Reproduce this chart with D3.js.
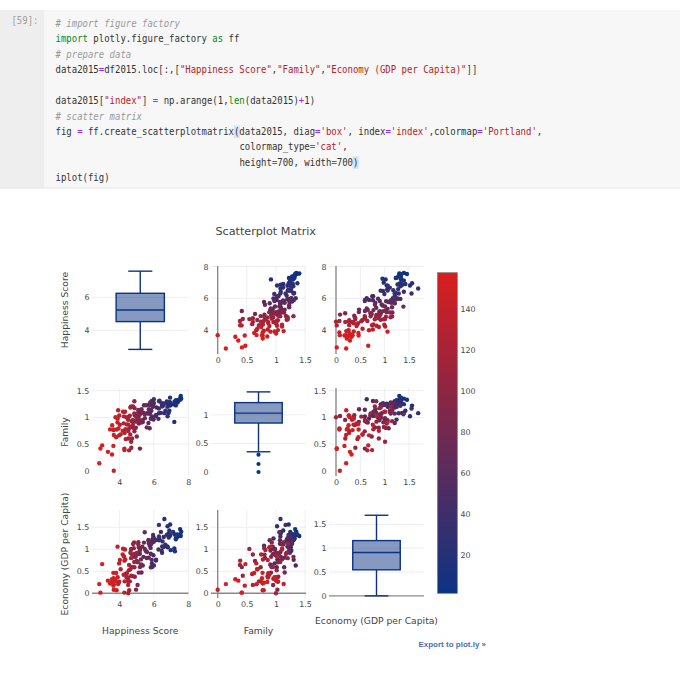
<!DOCTYPE html>
<html>
<head>
<meta charset="utf-8">
<script src="https://cdn.jsdelivr.net/npm/d3@7"></script>
<style>
  body { margin: 0; background: #fff; }
  svg { display: block; }
  text { white-space: pre; }
</style>
</head>
<body>
<svg id="page" width="680" height="680"></svg>
<script>
// World Happiness Report 2015, in rank order (index 1..158)
const happiness = [
  7.587,7.561,7.527,7.522,7.427,7.406,7.378,7.364,7.286,7.284,
  7.278,7.226,7.200,7.187,7.119,6.983,6.946,6.940,6.937,6.901,
  6.867,6.853,6.810,6.798,6.786,6.750,6.670,6.611,6.575,6.574,
  6.505,6.485,6.477,6.455,6.411,6.329,6.302,6.298,6.295,6.269,
  6.168,6.130,6.123,6.003,5.995,5.987,5.984,5.975,5.960,5.948,
  5.890,5.889,5.878,5.855,5.848,5.833,5.828,5.824,5.813,5.791,
  5.770,5.759,5.754,5.716,5.709,5.695,5.689,5.605,5.589,5.548,
  5.477,5.474,5.429,5.399,5.360,5.332,5.286,5.268,5.253,5.212,
  5.194,5.192,5.192,5.140,5.129,5.124,5.123,5.102,5.098,5.073,
  5.057,5.013,5.007,4.971,4.959,4.949,4.898,4.885,4.876,4.874,
  4.867,4.857,4.839,4.800,4.788,4.786,4.739,4.715,4.694,4.686,
  4.681,4.677,4.642,4.633,4.610,4.571,4.565,4.550,4.518,4.517,
  4.514,4.512,4.507,4.436,4.419,4.369,4.350,4.332,4.307,4.297,
  4.292,4.271,4.252,4.218,4.194,4.077,4.033,3.995,3.989,3.956,
  3.931,3.904,3.896,3.845,3.819,3.781,3.681,3.678,3.667,3.656,
  3.655,3.587,3.575,3.465,3.340,3.006,2.905,2.839
];
const family = [
  1.350,1.402,1.361,1.331,1.323,1.318,1.280,1.289,1.320,1.309,
  1.224,1.238,1.297,0.915,1.247,1.233,1.220,1.369,1.286,1.126,
  1.285,1.082,1.256,1.020,1.199,1.299,1.124,1.079,1.260,1.248,
  1.206,1.209,1.240,1.265,1.084,1.314,1.302,1.076,1.166,0.972,
  1.184,1.025,1.044,1.340,1.270,1.257,0.958,0.999,1.216,1.198,
  0.978,1.015,1.305,1.122,1.274,1.257,1.142,0.975,1.233,1.279,
  1.070,0.796,1.119,1.236,1.151,1.070,0.893,1.078,0.812,1.227,
  0.985,1.058,1.228,1.087,0.912,0.946,1.151,0.904,1.104,0.938,
  0.414,1.054,0.906,0.947,0.916,0.886,1.010,1.139,1.096,1.035,
  0.952,0.641,1.002,1.026,0.804,0.919,1.041,1.172,0.738,1.301,
  1.073,0.929,0.800,1.202,0.953,0.856,0.604,0.926,0.431,0.544,
  1.203,0.819,1.185,0.680,1.033,0.790,0.382,1.014,0.743,1.001,
  0.864,0.604,0.956,0.869,0.999,0.592,0.777,1.105,0.709,0.386,
  0.411,1.019,0.888,1.106,0.747,0.681,0.860,1.035,0.663,0.793,
  1.133,0.976,0.905,0.773,0.627,1.003,0.668,0.000,0.761,0.465,
  0.771,0.852,0.303,0.774,0.354,0.475,0.416,0.140
];
const economy = [
  1.397,1.302,1.325,1.459,1.326,1.290,1.329,1.332,1.250,1.334,
  1.229,0.956,1.337,1.021,1.395,0.981,1.564,1.336,1.308,1.427,
  1.266,1.360,1.044,1.522,1.064,1.328,1.107,1.690,1.278,1.054,
  1.179,1.062,0.919,0.967,1.395,1.230,1.207,1.291,1.554,0.995,
  1.212,0.765,0.746,0.632,1.169,1.271,1.245,0.864,1.324,1.251,
  0.681,0.594,0.760,1.123,1.185,1.147,0.593,0.900,1.032,1.126,
  1.125,1.083,1.131,1.138,0.810,1.208,1.208,0.939,0.801,0.958,
  1.008,1.386,1.152,0.828,0.632,1.061,0.474,0.654,0.770,1.024,
  0.595,0.902,0.974,0.890,0.470,1.043,0.921,1.160,1.113,0.705,
  0.188,0.735,0.919,0.083,0.879,0.832,0.375,0.895,0.591,0.828,
  0.712,1.154,1.026,1.121,0.595,0.390,0.881,0.599,0.398,1.009,
  0.799,0.985,0.920,0.546,0.271,0.071,0.645,0.521,0.267,0.000,
  0.360,0.191,0.330,0.454,0.365,0.440,0.768,0.994,0.271,0.742,
  0.016,0.835,0.423,1.012,0.882,0.546,0.758,0.261,0.679,0.239,
  0.211,0.365,1.060,0.069,0.460,0.285,0.208,0.079,0.342,0.174,
  0.465,0.258,0.320,0.222,0.287,0.663,0.015,0.209
];
const varNames = ["Happiness Score", "Family", "Economy (GDP per Capita)"];
const axisTicks = [[4, 6, 8], [0, 0.5, 1, 1.5], [0, 0.5, 1, 1.5]];
const colorbarTicks = [20, 40, 60, 80, 100, 120, 140];
const indexRange = [1, 158];
const portlandEnds = ["rgb(12,51,131)", "rgb(217,30,30)"];

const codeLines = [
  "# import figure factory",
  "import plotly.figure_factory as ff",
  "# prepare data",
  "data2015=df2015.loc[:,[\"Happiness Score\",\"Family\",\"Economy (GDP per Capita)\"]]",
  "",
  "data2015[\"index\"] = np.arange(1,len(data2015)+1)",
  "# scatter matrix",
  "fig = ff.create_scatterplotmatrix(data2015, diag='box', index='index',colormap='Portland',",
  "                                  colormap_type='cat',",
  "                                  height=700, width=700)",
  "iplot(fig)"
];

const svg = d3.select("#page");

// ---------- notebook cell ----------
// DejaVu Sans Mono is 0.602em wide; squeeze it horizontally to the 5.41px grid of the screenshot
const monoSize = 10, cw = 5.41, squeeze = cw / (0.602 * monoSize);
const codeX = 55.5, lineH = 15.45, firstBase = 26.8;
svg.append("rect").attr("x", 0).attr("y", 10).attr("width", 680).attr("height", 178).attr("fill", "#f7f7f7");
svg.append("rect").attr("x", 0).attr("y", 10).attr("width", 44).attr("height", 178).attr("fill", "#eeeeee");
svg.append("line").attr("x1", 0).attr("x2", 680).attr("y1", 188).attr("y2", 188).attr("stroke", "#e6e6e6");

svg.append("text").attr("transform", `translate(38.5,23.5) scale(${squeeze},1)`).attr("text-anchor", "end")
  .attr("font-family", "DejaVu Sans Mono").attr("font-size", monoSize).attr("fill", "#9e9e9e").text("[59]:");

// matching bracket highlight
[[7, 33], [9, 55]].forEach(([ln, col]) => {
  svg.append("rect").attr("x", codeX + col * cw - 0.3).attr("y", firstBase + ln * lineH - 9.5)
    .attr("width", cw + 0.6).attr("height", 12.5).attr("fill", "#d3e4f8");
});

const codeColors = { comment: "#9a9a9a", keyword: "#0b8a0b", string: "#ba2121", op: "#aa22ff", plain: "#333333" };

function tokenize(line) {
  if (line.trim().startsWith("#")) return [{ s: line.trim(), c: "comment" }];
  const out = [];
  const re = /("[^"]*"|'[^']*')|\b(import|as|len)\b|([=+])/g;
  let last = 0, m;
  while ((m = re.exec(line))) {
    if (m.index > last) out.push({ s: line.slice(last, m.index), c: "plain" });
    out.push({ s: m[0], c: m[1] ? "string" : m[2] ? "keyword" : "op" });
    last = m.index + m[0].length;
  }
  if (last < line.length) out.push({ s: line.slice(last), c: "plain" });
  return out;
}

// one text per line, coloured tspans
codeLines.forEach((line, ln) => {
  const lead = line.length - line.trimStart().length;
  const body = line.trim();
  if (!body) return;
  const t = svg.append("text")
    .attr("transform", `translate(${codeX + lead * cw},${firstBase + ln * lineH}) scale(${squeeze},1)`)
    .attr("xml:space", "preserve")
    .attr("font-family", "DejaVu Sans Mono")
    .attr("font-size", monoSize);
  tokenize(body).forEach(tok => {
    t.append("tspan")
      .attr("fill", codeColors[tok.c])
      .attr("font-style", tok.c === "comment" ? "italic" : null)
      .text(tok.s);
  });
});

// ---------- scatterplot matrix ----------
const series = [happiness, family, economy];
const cols = [[92, 188.5], [211, 306], [329, 424]];
const rows = [[266, 354], [388, 476], [510, 598]];
const xDom = [[2.417, 8.01], [-0.115, 1.517], [-0.144, 1.81]];
const yDom = [[2.49, 8.03], [-0.099, 1.55], [-0.107, 1.893]];
const boxDom = [[2.56, 7.9], [-0.07, 1.47], [-0.045, 1.80]];
const rowZeroLine = [false, false, true];
const font = "DejaVu Sans";
const tickSize = 7.9, titleSize = 9.2;
const boxColor = portlandEnds[0];

const color = d3.scaleLinear().domain(indexRange).range(portlandEnds).interpolate(d3.interpolateRgb);
const fmt = d3.format("~g");
const inside = (dom, v) => v >= dom[0] && v <= dom[1];

const chart = svg.append("g");

svg.append("text").attr("x", 265.7).attr("y", 234.5).attr("text-anchor", "middle")
  .attr("font-family", font).attr("font-size", 11.2).attr("fill", "#444").text("Scatterplot Matrix");

function styleAxis(g) {
  g.select(".domain").remove();
  g.attr("font-family", font).attr("font-size", tickSize);
  g.selectAll("text").attr("fill", "#444");
}

for (let r = 0; r < 3; r++) {
  for (let c = 0; c < 3; c++) {
    const cell = chart.append("g");
    const [x0, x1] = cols[c], [y0, y1] = rows[r];

    if (r === c) {
      // diagonal: box plot
      const vals = series[r].slice().sort(d3.ascending);
      const y = d3.scaleLinear().domain(boxDom[r]).range([y1, y0]);
      const band = d3.scaleBand().domain([varNames[r]]).range([x0, x1]).paddingInner(0).paddingOuter(0.5);
      const ticks = axisTicks[r].filter(v => inside(boxDom[r], v));

      cell.selectAll(".grid").data(ticks.filter(v => v !== 0)).join("line")
        .attr("x1", x0).attr("x2", x1).attr("y1", d => y(d)).attr("y2", d => y(d))
        .attr("stroke", "#ececec").attr("stroke-width", 0.9);
      if (rowZeroLine[r] && inside(boxDom[r], 0)) {
        cell.append("line").attr("x1", x0).attr("x2", x1).attr("y1", y(0)).attr("y2", y(0))
          .attr("stroke", "#8a8a8a").attr("stroke-width", 1.4);
      }

      const q1 = d3.quantile(vals, 0.25), med = d3.quantile(vals, 0.5), q3 = d3.quantile(vals, 0.75);
      const iqr = q3 - q1;
      const lo = d3.min(vals.filter(v => v >= q1 - 1.5 * iqr));
      const hi = d3.max(vals.filter(v => v <= q3 + 1.5 * iqr));
      const outliers = vals.filter(v => v < lo || v > hi);
      const bx = band(varNames[r]), bw = band.bandwidth(), cx = bx + bw / 2;

      const ln = (xa, xb, ya, yb) => cell.append("line").attr("x1", xa).attr("x2", xb).attr("y1", ya).attr("y2", yb)
        .attr("stroke", boxColor).attr("stroke-width", 1.4);
      ln(cx, cx, y(q3), y(hi));
      ln(cx, cx, y(q1), y(lo));
      ln(cx - bw / 4, cx + bw / 4, y(hi), y(hi));
      ln(cx - bw / 4, cx + bw / 4, y(lo), y(lo));
      cell.append("rect").attr("x", bx).attr("width", bw).attr("y", y(q3)).attr("height", y(q1) - y(q3))
        .attr("fill", "rgba(12,51,131,0.5)").attr("stroke", boxColor).attr("stroke-width", 1.4);
      ln(bx, bx + bw, y(med), y(med));
      cell.selectAll(".out").data(outliers).join("circle")
        .attr("cx", cx).attr("cy", d => y(d)).attr("r", 2.1).attr("fill", boxColor);

      cell.append("g").attr("transform", `translate(${x0},0)`)
        .call(d3.axisLeft(y).tickValues(ticks).tickSize(0).tickPadding(2.6).tickFormat(fmt))
        .call(styleAxis);
    } else {
      // off-diagonal: scatter
      const x = d3.scaleLinear().domain(xDom[c]).range([x0, x1]);
      const y = d3.scaleLinear().domain(yDom[r]).range([y1, y0]);
      const xt = axisTicks[c].filter(v => inside(xDom[c], v));
      const yt = axisTicks[r].filter(v => inside(yDom[r], v));

      cell.selectAll(".gx").data(xt.filter(v => v !== 0)).join("line")
        .attr("x1", d => x(d)).attr("x2", d => x(d)).attr("y1", y0).attr("y2", y1)
        .attr("stroke", "#ececec").attr("stroke-width", 0.9);
      cell.selectAll(".gy").data(yt.filter(v => v !== 0)).join("line")
        .attr("x1", x0).attr("x2", x1).attr("y1", d => y(d)).attr("y2", d => y(d))
        .attr("stroke", "#ececec").attr("stroke-width", 0.9);
      if (rowZeroLine[r] && inside(yDom[r], 0)) {
        cell.append("line").attr("x1", x0).attr("x2", x1).attr("y1", y(0)).attr("y2", y(0))
          .attr("stroke", "#8a8a8a").attr("stroke-width", 1.4);
      }
      if (inside(xDom[c], 0)) {
        cell.append("line").attr("x1", x(0)).attr("x2", x(0)).attr("y1", y0).attr("y2", y1)
          .attr("stroke", "#8a8a8a").attr("stroke-width", 1.4);
      }

      const pts = series[c].map((v, i) => ({ x: v, y: series[r][i], idx: i + 1 }));
      cell.selectAll("circle").data(pts).join("circle")
        .attr("cx", d => x(d.x)).attr("cy", d => y(d.y)).attr("r", 2.2)
        .attr("fill", d => color(d.idx));

      cell.append("g").attr("transform", `translate(${x0},0)`)
        .call(d3.axisLeft(y).tickValues(yt).tickSize(0).tickPadding(2.6).tickFormat(fmt))
        .call(styleAxis);
      cell.append("g").attr("transform", `translate(0,${y1})`)
        .call(d3.axisBottom(x).tickValues(xt).tickSize(0).tickPadding(3.8).tickFormat(fmt))
        .call(styleAxis);
    }
  }
}

// axis titles
varNames.forEach((name, i) => {
  const cyRow = (rows[i][0] + rows[i][1]) / 2;
  svg.append("text").attr("transform", `translate(67.5,${cyRow}) rotate(-90)`)
    .attr("text-anchor", "middle").attr("font-family", font).attr("font-size", titleSize)
    .attr("fill", "#444").text(name);
  const cxCol = (cols[i][0] + cols[i][1]) / 2;
  svg.append("text").attr("x", cxCol).attr("y", i === 2 ? 624 : 633.5)
    .attr("text-anchor", "middle").attr("font-family", font).attr("font-size", titleSize)
    .attr("fill", "#444").text(name);
});

// colorbar
const cbX = 437.5, cbW = 19.8, cbTop = 272.7, cbBot = 593.3;
const cbScale = d3.scaleLinear().domain(indexRange).range([cbBot, cbTop]);
const grad = svg.append("defs").append("linearGradient").attr("id", "cbgrad")
  .attr("x1", 0).attr("y1", 1).attr("x2", 0).attr("y2", 0);
d3.range(0, 1.0001, 0.1).forEach(t => {
  grad.append("stop").attr("offset", t)
    .attr("stop-color", color(indexRange[0] + t * (indexRange[1] - indexRange[0])));
});
svg.append("rect").attr("x", cbX).attr("y", cbTop).attr("width", cbW).attr("height", cbBot - cbTop)
  .attr("fill", "url(#cbgrad)").attr("stroke", "#777").attr("stroke-width", 0.7);
svg.append("g").attr("transform", `translate(${cbX + cbW},0)`)
  .call(d3.axisRight(cbScale).tickValues(colorbarTicks).tickSize(0).tickPadding(3.2))
  .call(styleAxis);

// export link
svg.append("text").attr("x", 486).attr("y", 646.5).attr("text-anchor", "end")
  .attr("font-family", "Liberation Sans").attr("font-weight", "bold").attr("font-size", 8)
  .attr("fill", "#4a6cb3").text("Export to plot.ly \u00bb");
</script>
</body>
</html>
